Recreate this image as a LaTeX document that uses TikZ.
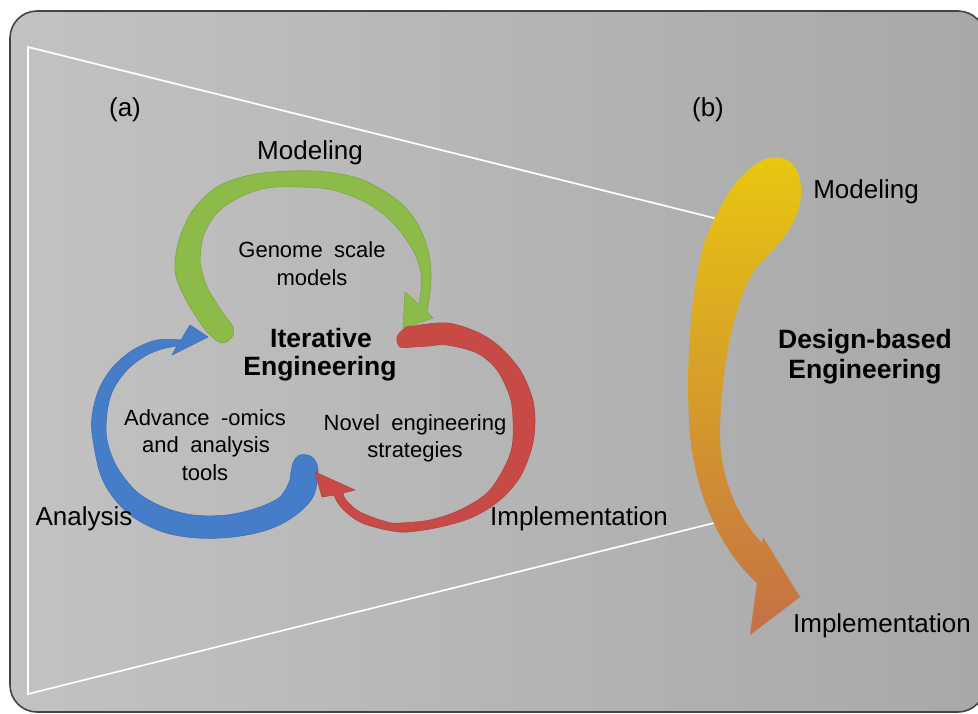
\documentclass[tikz,border=0pt]{standalone}
\usepackage{fontspec}
\setmainfont{Liberation Sans}
\definecolor{bgleft}{HTML}{C2C2C2}
\definecolor{bgright}{HTML}{A8A8A8}
\definecolor{frame}{HTML}{444444}
\definecolor{greenfill}{HTML}{8DBB4A}
\definecolor{greenedge}{HTML}{7BA83E}
\definecolor{bluefill}{HTML}{467DC8}
\definecolor{blueedge}{HTML}{3F70B5}
\definecolor{redfill}{HTML}{C84A46}
\definecolor{rededge}{HTML}{B5423F}
\definecolor{ytop}{HTML}{E8C80E}
\definecolor{ymid}{HTML}{DEAE1C}
\definecolor{ybot}{HTML}{C47046}
\newcommand{\widewordspace}{\spaceskip=0.52em\relax}
\begin{document}
\begin{tikzpicture}[x=1pt,y=-1pt,
  lab/.style={font=\fontsize{26}{30}\selectfont, inner sep=0pt, anchor=base},
  intext/.style={font=\fontsize{22}{26}\selectfont\widewordspace, inner sep=0pt, anchor=base},
  title/.style={font=\bfseries\fontsize{26.5}{31}\selectfont, inner sep=0pt, anchor=base},
  guide/.style={white, line width=1.7pt},
  band/.style={line width=0.6pt, line join=round},
  edge/.style={smooth, tension=0.55}]
\useasboundingbox (0,0) rectangle (978,713);
\fill[white] (0,0) rectangle (978,713);

% panel background
\shadedraw[left color=bgleft, right color=bgright, draw=frame, line width=1.6pt,
  rounded corners=27pt] (10,11) rectangle (985,712);

% zoom-out trapezoid guide lines
\coordinate (gtr) at (718,219);
\coordinate (gtl) at (28,47);
\coordinate (gbl) at (28,694);
\coordinate (gbr) at (722,521);
\draw[guide, line join=miter] (gtr) -- (gtl) -- (gbl) -- (gbr);

% green arrow: Modeling
\fill[greenfill, draw=greenedge, band]
  plot[edge] coordinates {(200,263) (207,287) (223,313) (233,327) (232,337) (222,343) (208,333) (190,307) (177,280) (175,262) (180,237) (193,210) (217,187) (250,175) (290,171) (327,172) (363,180) (397,200) (417,223) (428,250) (431,273) (430,292) (427,312)}
  -- (433,318) -- (403,328) -- (405,292) -- (419,305)
  -- plot[edge] coordinates {(419,305) (421,290) (421,273) (413,250) (393,223) (367,203) (333,190) (300,187) (267,188) (240,197) (217,213) (203,237) (200,263)}
  -- cycle;

% blue arrow: Analysis
\fill[bluefill, draw=blueedge, band]
  plot[edge] coordinates {(290,480) (293,463) (300,455) (312,457) (318,470) (313,497) (293,517) (267,530) (233,537) (197,538) (163,532) (133,517) (113,497) (100,473) (92,433) (93,410) (100,387) (113,367) (133,350) (157,340) (181,340)}
  -- (190,325) -- (208,337) -- (172,355) -- (177,346)
  -- plot[edge] coordinates {(177,346) (162,349) (145,356) (127,370) (113,390) (107,413) (107,440) (117,467) (137,492) (163,507) (193,515) (227,515) (257,508) (280,497) (290,480)}
  -- cycle;

% red arrow: Implementation
\fill[redfill, draw=rededge, band]
  plot[edge] coordinates {(430,346) (413,347) (400,347) (397,337) (405,328) (413,326) (447,323) (477,332) (500,347) (520,370) (532,397) (535,420) (532,447) (520,477) (500,500) (473,517) (440,527) (407,532) (387,530) (362,523) (347,513) (338,503) (334,495)}
  -- (322,497) -- (315,472) -- (355,490) -- (343,493)
  -- plot[edge] coordinates {(343,493) (346,500) (360,512) (387,522) (400,523) (430,520) (460,510) (487,493) (503,470) (512,447) (513,420) (510,397) (497,370) (477,353) (447,345) (430,346)}
  -- cycle;

% yellow arrow: design-based route
\shade[top color=ytop, middle color=ymid, bottom color=ybot]
  (707,235) .. controls (722,200) and (740,170) .. (765,159)
  .. controls (785,152) and (803,165) .. (801,195)
  .. controls (799,225) and (778,245) .. (760,263)
  .. controls (740,285) and (722,350) .. (720,430)
  .. controls (719,480) and (740,520) .. (762,543)
  -- (763,537) -- (800,597) -- (750,635) -- (757,583)
  .. controls (720,550) and (692,490) .. (689,420)
  .. controls (685,340) and (695,270) .. (707,235)
  -- cycle;

% labels
\node[lab] (pa) at (125,116) {(a)};
\node[lab] (pb) at (708,116) {(b)};
\node[lab] (modl) at (310,159) {Modeling};
\node[intext] (gsm1) at (312,257) {Genome scale};
\node[intext] (gsm2) at (312,285) {models};
\node[title] (it1) at (321,347) {Iterative};
\node[title] (it2) at (320,375) {Engineering};
\node[intext] (adv1) at (205,425) {Advance -omics};
\node[intext] (adv2) at (206,452) {and analysis};
\node[intext] (adv3) at (205,480) {tools};
\node[intext] (nov1) at (415,430) {Novel engineering};
\node[intext] (nov2) at (415,457) {strategies};
\node[lab] (anl) at (84,525) {Analysis};
\node[lab] (impl) at (579,525) {Implementation};
\node[lab] (modr) at (866,198) {Modeling};
\node[title] (db1) at (865,348) {Design-based};
\node[title] (db2) at (865,378) {Engineering};
\node[lab] (impr) at (882,632) {Implementation};
\end{tikzpicture}
\end{document}
